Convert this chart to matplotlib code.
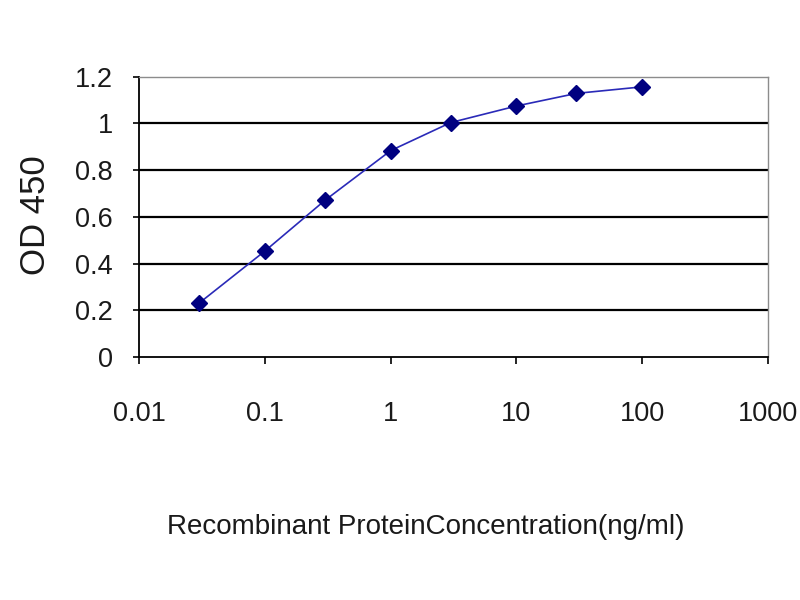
import numpy as np
import matplotlib.pyplot as plt
from matplotlib.ticker import FixedLocator, FixedFormatter, NullLocator

# 数据
conc = [0.03, 0.1, 0.3, 1, 3, 10, 30, 100]
od450 = [0.231, 0.454, 0.671, 0.884, 1.004, 1.075, 1.129, 1.157]
x_ticks = [0.01, 0.1, 1, 10, 100, 1000]
x_labels = ['0.01', '0.1', '1', '10', '100', '1000']
y_ticks = [0, 0.2, 0.4, 0.6, 0.8, 1, 1.2]
y_labels = ['0', '0.2', '0.4', '0.6', '0.8', '1', '1.2']

fam = ['Liberation Sans', 'DejaVu Sans']

fig = plt.figure(figsize=(8, 6), dpi=100)
ax = fig.add_axes([0.174, 0.405, 0.786, 0.467])

ax.plot(conc, od450, color='#2a2ab8', linewidth=1.2, marker='D',
        markersize=8.5, markerfacecolor='#000080', markeredgecolor='#000080', zorder=3)

ax.set_xscale('log')
ax.set_xlim(0.01, 1000)
ax.set_ylim(0, 1.2)
ax.xaxis.set_major_locator(FixedLocator(x_ticks))
ax.xaxis.set_major_formatter(FixedFormatter(x_labels))
ax.xaxis.set_minor_locator(NullLocator())
ax.set_yticks(y_ticks)
ax.set_yticklabels(y_labels)

# 网格线
for v in y_ticks[1:-1]:
    ax.axhline(v, color='black', linewidth=1.6, zorder=1)

for s in ['left', 'bottom']:
    ax.spines[s].set_color('black')
    ax.spines[s].set_linewidth(1.3)
for s in ['top', 'right']:
    ax.spines[s].set_color('#8c8c8c')
    ax.spines[s].set_linewidth(1.0)

ax.tick_params(axis='x', direction='out', length=5, width=1.2, pad=27, labelsize=19.5)
ax.tick_params(axis='y', direction='out', length=4, width=1.2, pad=15, labelsize=19.5)
for lab in ax.get_xticklabels() + ax.get_yticklabels():
    lab.set_family(fam)
    lab.set_color('#1a1a1a')

fig.text(0.044, 0.642, 'OD 450', rotation=90, ha='center', va='center',
         fontsize=25, family=fam, color='#1a1a1a')
fig.text(0.532, 0.122, 'Recombinant ProteinConcentration(ng/ml)', ha='center', va='center',
         fontsize=20, family=fam, color='#1a1a1a')

fig.savefig('out.png', dpi=100)
